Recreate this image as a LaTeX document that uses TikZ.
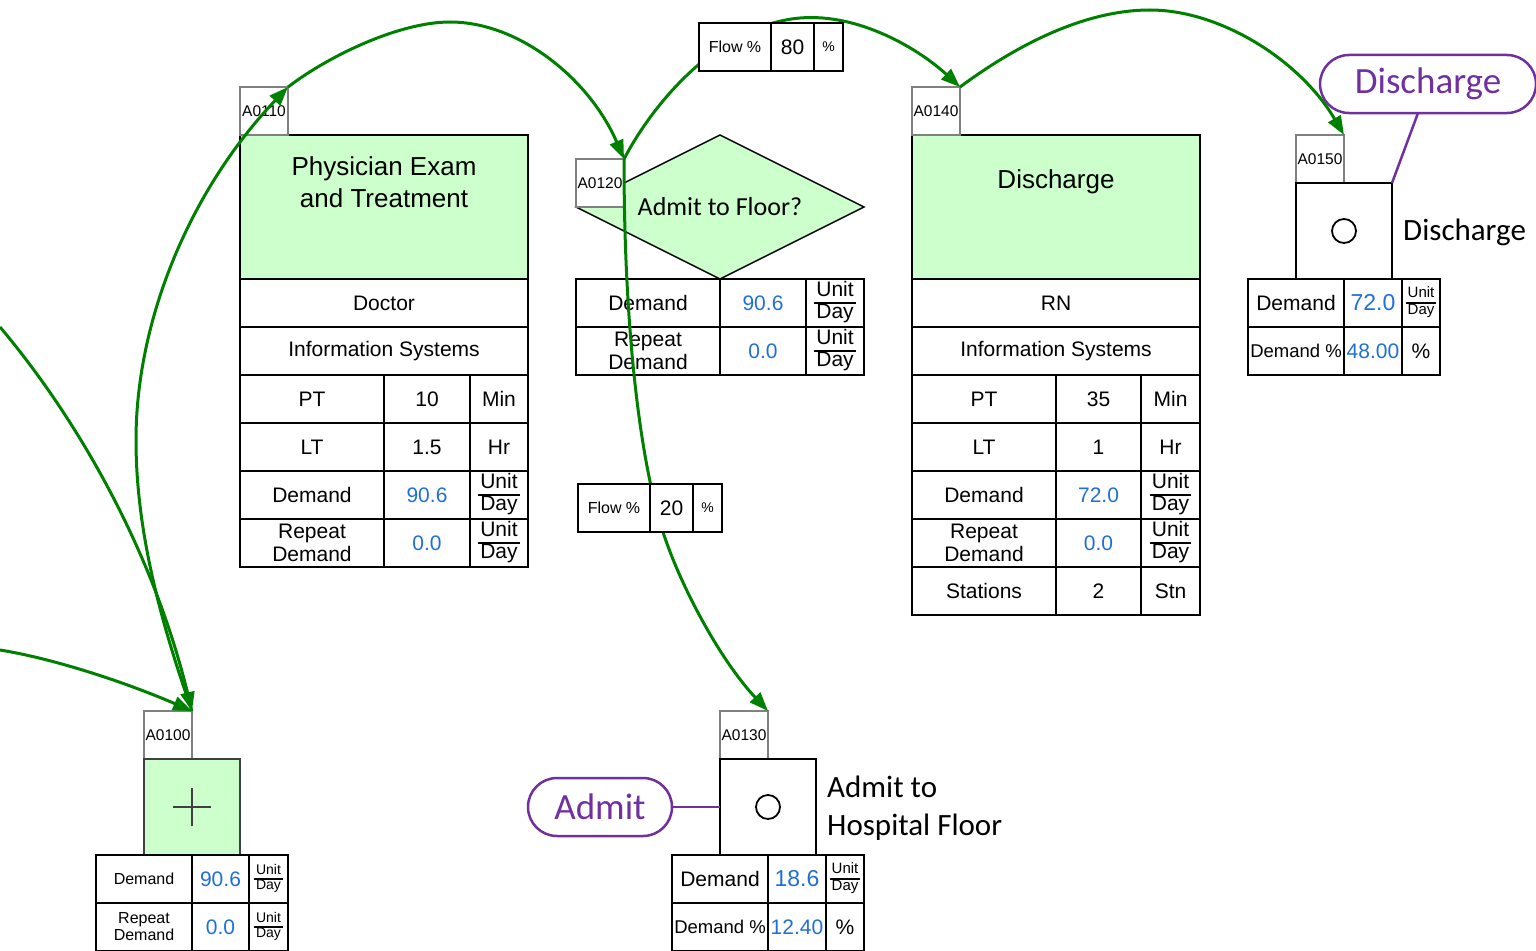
\documentclass[tikz,border=0pt]{standalone}
\usepackage{fontspec}
\setmainfont{Liberation Sans}
\newfontfamily\calib{Carlito}
\usetikzlibrary{arrows.meta,shapes.geometric}
\definecolor{flowgreen}{RGB}{0,128,0}
\definecolor{boxgreen}{RGB}{204,255,204}
\definecolor{taggray}{RGB}{128,128,128}
\definecolor{valblue}{RGB}{31,111,214}
\definecolor{tagpurple}{RGB}{112,48,160}
\definecolor{plusgray}{RGB}{64,64,64}
\newcommand\fs[1]{\fontsize{#1}{#1}\selectfont}
\newcommand\UnitDay[1]{\vbox{\fontsize{#1}{#1}\selectfont\offinterlineskip\halign{\hskip2pt\hfil##\hfil\hskip2pt\cr\strut Unit\cr\noalign{\hrule height 1.6pt}\strut Day\cr}}}
\newcommand\Cell[7][]{\node[cell,minimum width={#5-#3},minimum height={#6-#4},#1] (#2) at ({(#3+#5)/2},{(#4+#6)/2}) {#7};}
\tikzset{
  cell/.style={draw=black,line width=2pt,inner sep=0pt,outer sep=0pt,align=center,font=\fs{21}},
  val/.style={text=valblue},
  tagbox/.style={draw=taggray,line width=1.5pt,fill=white,font=\fs{15.5}},
  greenbox/.style={draw=black,line width=2pt,fill=boxgreen,inner sep=0pt,outer sep=0pt},
  title/.style={font=\fontsize{26}{32}\selectfont,align=center,inner sep=0pt},
  sidetext/.style={font=\calib\fontsize{31}{38}\selectfont,align=left,inner sep=0pt,anchor=west},
  oval/.style={draw=tagpurple,line width=2.5pt,rounded corners=29pt,text=tagpurple,font=\calib\fs{37},inner sep=0pt,outer sep=0pt,minimum height=58},
  plink/.style={draw=tagpurple,line width=2.5pt},
  ringmark/.style={circle,draw=black,line width=1.8pt,minimum size=24,inner sep=0pt},
  flowbox/.style={cell,fill=white},
  flow/.style={draw=flowgreen,line width=3pt,-{Triangle[length=19pt,width=14pt]}}
}
\begin{document}
\begin{tikzpicture}[x=1pt,y=-1pt]
\useasboundingbox (0,0) rectangle (1536,950);

% ---------- A0110 ----------
\node[greenbox,minimum width=288,minimum height=144] (g110) at (384,207) {};
\node[title] (ti110) at (384,182) {Physician Exam\\and Treatment};
\Cell[tagbox]{t110}{240}{87}{288}{135}{A0110}
\Cell{r110a}{240}{279}{528}{327}{Doctor}
\Cell{r110b}{240}{327}{528}{375}{Information Systems}
\Cell{r110c1}{240}{375}{384}{423}{PT}
\Cell{r110c2}{384}{375}{470}{423}{10}
\Cell{r110c3}{470}{375}{528}{423}{Min}
\Cell{r110d1}{240}{423}{384}{471}{LT}
\Cell{r110d2}{384}{423}{470}{471}{1.5}
\Cell{r110d3}{470}{423}{528}{471}{Hr}
\Cell{r110e1}{240}{471}{384}{519}{Demand}
\Cell[val]{r110e2}{384}{471}{470}{519}{90.6}
\Cell{r110e3}{470}{471}{528}{519}{\UnitDay{21}}
\Cell[font=\fontsize{21}{23}\selectfont]{r110f1}{240}{519}{384}{567}{Repeat\\Demand}
\Cell[val]{r110f2}{384}{519}{470}{567}{0.0}
\Cell{r110f3}{470}{519}{528}{567}{\UnitDay{21}}

% ---------- A0120 ----------
\node[diamond,draw=black,line width=1.5pt,fill=boxgreen,minimum width=288,minimum height=144,inner sep=0pt,outer sep=0pt] (d120) at (720,207) {};
\node[font=\calib\fs{26},inner sep=0pt] (ti120) at (720,207) {Admit to Floor?};
\Cell[tagbox]{t120}{576}{159}{624}{207}{A0120}
\Cell{r120a1}{576}{279}{720}{327}{Demand}
\Cell[val]{r120a2}{720}{279}{806}{327}{90.6}
\Cell{r120a3}{806}{279}{864}{327}{\UnitDay{21}}
\Cell[font=\fontsize{21}{23}\selectfont]{r120b1}{576}{327}{720}{375}{Repeat\\Demand}
\Cell[val]{r120b2}{720}{327}{806}{375}{0.0}
\Cell{r120b3}{806}{327}{864}{375}{\UnitDay{21}}

% ---------- A0140 ----------
\node[greenbox,minimum width=288,minimum height=144] (g140) at (1056,207) {};
\node[title] (ti140) at (1056,182) {Discharge};
\Cell[tagbox]{t140}{912}{87}{960}{135}{A0140}
\Cell{r140a}{912}{279}{1200}{327}{RN}
\Cell{r140b}{912}{327}{1200}{375}{Information Systems}
\Cell{r140c1}{912}{375}{1056}{423}{PT}
\Cell{r140c2}{1056}{375}{1141}{423}{35}
\Cell{r140c3}{1141}{375}{1200}{423}{Min}
\Cell{r140d1}{912}{423}{1056}{471}{LT}
\Cell{r140d2}{1056}{423}{1141}{471}{1}
\Cell{r140d3}{1141}{423}{1200}{471}{Hr}
\Cell{r140e1}{912}{471}{1056}{519}{Demand}
\Cell[val]{r140e2}{1056}{471}{1141}{519}{72.0}
\Cell{r140e3}{1141}{471}{1200}{519}{\UnitDay{21}}
\Cell[font=\fontsize{21}{23}\selectfont]{r140f1}{912}{519}{1056}{567}{Repeat\\Demand}
\Cell[val]{r140f2}{1056}{519}{1141}{567}{0.0}
\Cell{r140f3}{1141}{519}{1200}{567}{\UnitDay{21}}
\Cell{r140g1}{912}{567}{1056}{615}{Stations}
\Cell{r140g2}{1056}{567}{1141}{615}{2}
\Cell{r140g3}{1141}{567}{1200}{615}{Stn}

% ---------- A0150 ----------
\Cell[tagbox]{t150}{1296}{135}{1344}{183}{A0150}
\Cell{s150}{1296}{183}{1392}{279}{}
\node[ringmark] (c150) at (1344,231) {};
\node[sidetext] (x150) at (1403,232) {Discharge};
\Cell{r150a1}{1248}{279}{1344}{327}{Demand}
\Cell[val,font=\fs{23}]{r150a2}{1344}{279}{1402}{327}{72.0}
\Cell{r150a3}{1402}{279}{1440}{327}{\UnitDay{15}}
\Cell[font=\fs{18.5}]{r150b1}{1248}{327}{1344}{375}{Demand \%}
\Cell[val]{r150b2}{1344}{327}{1402}{375}{48.00}
\Cell{r150b3}{1402}{327}{1440}{375}{\%}
\node[oval,minimum width=216] (ov150) at (1428,84) {Discharge};

% ---------- A0100 ----------
\Cell[tagbox]{t100}{144}{711}{192}{759}{A0100}
\node[draw=plusgray,line width=2.5pt,fill=boxgreen,minimum width=96,minimum height=96,inner sep=0pt,outer sep=0pt] (s100) at (192,807) {};
\draw[draw=plusgray,line width=2pt] ([xshift=-19pt]s100.center) -- ([xshift=19pt]s100.center);
\draw[draw=plusgray,line width=2pt] ([yshift=-19pt]s100.center) -- ([yshift=19pt]s100.center);
\Cell[font=\fs{16}]{r100a1}{96}{855}{192}{903}{Demand}
\Cell[val]{r100a2}{192}{855}{249}{903}{90.6}
\Cell{r100a3}{249}{855}{288}{903}{\UnitDay{14}}
\Cell[font=\fontsize{16}{17}\selectfont]{r100b1}{96}{903}{192}{951}{Repeat\\Demand}
\Cell[val]{r100b2}{192}{903}{249}{951}{0.0}
\Cell{r100b3}{249}{903}{288}{951}{\UnitDay{14}}

% ---------- A0130 ----------
\Cell[tagbox]{t130}{720}{711}{768}{759}{A0130}
\Cell{s130}{720}{759}{816}{855}{}
\node[ringmark] (c130) at (768,807) {};
\node[sidetext] (x130) at (827,808) {Admit to\\Hospital Floor};
\Cell{r130a1}{672}{855}{768}{903}{Demand}
\Cell[val,font=\fs{23}]{r130a2}{768}{855}{826}{903}{18.6}
\Cell{r130a3}{826}{855}{864}{903}{\UnitDay{15}}
\Cell[font=\fs{18.5}]{r130b1}{672}{903}{768}{951}{Demand \%}
\Cell[val]{r130b2}{768}{903}{826}{951}{12.40}
\Cell{r130b3}{826}{903}{864}{951}{\%}
\node[oval,minimum width=144] (ov130) at (600,807) {Admit};

% ---------- connectors ----------
\coordinate (inA) at (0,327);
\coordinate (inB) at (0,650);
\draw[flow] (inA) .. controls (70,410) and (150,540) .. (t100.north east);
\draw[flow] (inB) .. controls (50,658) and (120,680) .. (t100.north east);
\draw[flow] (t100.north east) .. controls (160,620) and (136,530) .. (136,440) .. controls (136,320) and (190,190) .. (t110.north east);
\draw[flow] (t110.north east) .. controls (330,55) and (400,22) .. (450,22) .. controls (520,22) and (590,80) .. (t120.north east);
\draw[flow] (t120.north east) .. controls (655,100) and (720,25) .. (800,18) .. controls (860,13) and (920,50) .. (t140.north east);
\draw[flow] (t120.north east) .. controls (624,330) and (640,460) .. (663,532) .. controls (680,585) and (720,660) .. (t130.north east);
\draw[flow] (t140.north east) .. controls (1010,50) and (1080,10) .. (1150,10) .. controls (1220,10) and (1300,60) .. (t150.north east);

% ---------- flow labels ----------
\Cell[flowbox,font=\fs{16}]{fa1}{699}{23}{771}{71}{Flow \%}
\Cell[flowbox]{fa2}{771}{23}{814}{71}{80}
\Cell[flowbox,font=\fs{14}]{fa3}{814}{23}{843}{71}{\%}
\Cell[flowbox,font=\fs{16}]{fb1}{578}{484}{650}{532}{Flow \%}
\Cell[flowbox]{fb2}{650}{484}{693}{532}{20}
\Cell[flowbox,font=\fs{14}]{fb3}{693}{484}{722}{532}{\%}

% ---------- purple links ----------
\draw[plink] (ov130.east) -- (s130.west);
\draw[plink] ([xshift=-10pt]ov150.south) -- (s150.north east);
\end{tikzpicture}
\end{document}
